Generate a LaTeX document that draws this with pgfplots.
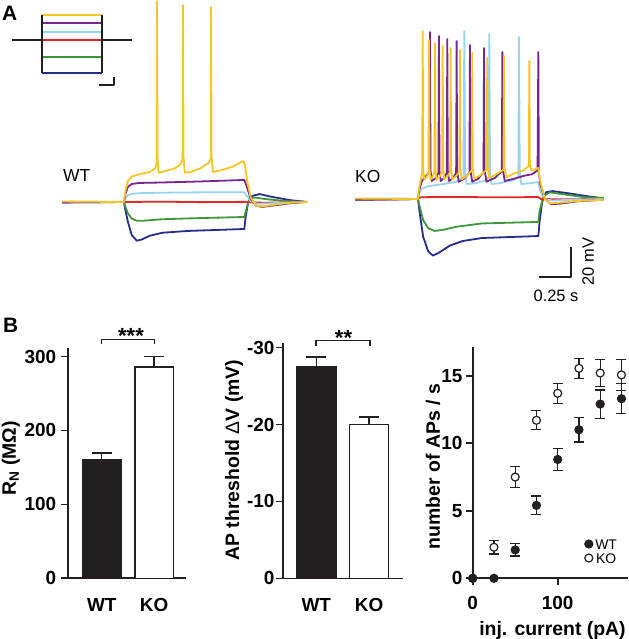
\documentclass[border=0pt]{standalone}
\usepackage{fontspec}
\setmainfont{Liberation Sans}
\usepackage{pgfplots}
\pgfplotsset{compat=1.18}
\definecolor{cY}{RGB}{246,198,38}
\definecolor{cP}{RGB}{118,38,140}
\definecolor{cL}{RGB}{150,212,242}
\definecolor{cR}{RGB}{228,38,40}
\definecolor{cG}{RGB}{62,150,58}
\definecolor{cB}{RGB}{36,44,140}
\definecolor{ink}{RGB}{35,31,32}
\newcommand{\tickfont}{\fontsize{19}{19}\selectfont\bfseries}
\newcommand{\labfont}{\fontsize{19.5}{19.5}\selectfont\bfseries}
\pgfplotsset{
  trace/.style={hide axis, scale only axis, anchor=south west,
    every axis plot/.append style={line width=1.8bp, line join=round}},
  statax/.style={scale only axis, anchor=south west, clip=false,
    axis x line=bottom, axis y line=left,
    axis line style={-, line width=1.6bp, ink},
    tick align=outside, major tick length=7bp,
    tick style={line width=1.6bp, ink},
    ticklabel style={font=\tickfont},
    /pgf/number format/assume math mode=true,
    yticklabel style={inner sep=0pt},
    xticklabel style={inner sep=0pt}},
  barax/.style={statax, ybar, bar shift=0pt, xtick style={draw=none},
    xtick={0,1}, xticklabels={WT,KO}, xticklabel style={yshift=-12.7bp}},
  /pgfplots/error bars/errs/.style={
    /pgfplots/error bars/error bar style={line width=1.4bp, ink},
    /pgfplots/error bars/error mark options={rotate=90, line width=1.4bp, mark size=10bp, ink}},
  /pgfplots/error bars/errc/.style={
    /pgfplots/error bars/error bar style={line width=1.2bp, ink},
    /pgfplots/error bars/error mark options={rotate=90, line width=1.2bp, mark size=5bp, ink}},
}
\pgfplotstableread{
x   y     e
0   0     0
25  2.3   0.5
50  7.5   0.77
75  11.7  0.7
100 13.7  0.74
125 15.55 0.74
150 15.2  1.0
175 15.06 1.16
}\koRate
\pgfplotstableread{
x   y     e
0   0     0
25  0     0
50  2.1   0.45
75  5.4   0.7
100 8.8   0.8
125 11.0  0.9
150 12.9  1.05
175 13.3  1.1
}\wtRate
\begin{document}
\begin{tikzpicture}
\useasboundingbox (0,0) rectangle (629bp,639bp);

% ---------- inset: current protocol ----------
\begin{axis}[trace, at={(12bp,549bp)}, width=120bp, height=90bp,
  xmin=-0.5, xmax=1.5, ymin=-150, ymax=120]
\addplot[ink] coordinates {(-0.5,0) (1.5,0)};
\addplot[cY] coordinates {(0,75) (1,75)};
\addplot[cP] coordinates {(0,50) (1,50)};
\addplot[cL] coordinates {(0,25) (1,25)};
\addplot[cR] coordinates {(0,0) (1,0)};
\addplot[cG] coordinates {(0,-50) (1,-50)};
\addplot[cB] coordinates {(0,-100) (1,-100)};
\addplot[ink] coordinates {(0,-100) (0,75)};
\addplot[ink] coordinates {(1,-100) (1,75)};
\addplot[ink] coordinates {(0.95,-135) (1.2,-135) (1.2,-111)};
\end{axis}

% ---------- WT traces ----------
\begin{axis}[trace, at={(55bp,379bp)}, width=260bp, height=260bp,
  xmin=-0.539, xmax=1.492, ymin=-108.67, ymax=64.67]
\addplot[cB] coordinates {(-0.484,-70.3) (-0.25,-70.1) (0,-70) (0.01,-75) (0.03,-83) (0.06,-92) (0.1,-95.8) (0.14,-95) (0.2,-92.5) (0.3,-90.5) (0.5,-89.3) (0.94,-88) (0.95,-80) (0.97,-70) (1.0,-66) (1.06,-64.7) (1.15,-66.5) (1.3,-68.8) (1.43,-70)};
\addplot[cG] coordinates {(-0.484,-70) (-0.2,-70.2) (0,-70) (0.01,-73) (0.03,-77.5) (0.06,-81) (0.1,-82.5) (0.15,-82.5) (0.3,-81.5) (0.6,-80.7) (0.94,-80) (0.955,-75) (0.98,-68) (1.02,-67) (1.1,-68) (1.25,-69.3) (1.43,-70)};
\addplot[cR] coordinates {(-0.484,-70) (-0.3,-69.8) (-0.1,-70.1) (0,-70) (0.3,-69.8) (0.6,-70.1) (0.95,-69.9) (1.0,-70.3) (1.1,-70.5) (1.25,-70.2) (1.43,-70)};
\addplot[cL] coordinates {(-0.484,-70.2) (-0.2,-70) (0,-70) (0.01,-67.5) (0.03,-65.5) (0.06,-64.5) (0.15,-64) (0.4,-63.7) (0.7,-63.5) (0.94,-63.5) (0.96,-66) (0.99,-69.5) (1.04,-71.2) (1.12,-71) (1.25,-70.4) (1.43,-70)};
\addplot[cP] coordinates {(-0.484,-70.3) (-0.2,-70.1) (0,-70) (0.01,-65) (0.03,-60) (0.06,-58) (0.12,-57.3) (0.3,-57) (0.6,-56.3) (0.94,-55.3) (0.96,-60) (0.99,-68) (1.03,-72.5) (1.08,-73.3) (1.2,-72) (1.3,-70.8) (1.43,-70)};
\addplot[cY] coordinates {(-0.484,-69.7) (-0.2,-69.9) (0,-70) (0.01,-63) (0.03,-56) (0.06,-53) (0.12,-51.5) (0.2,-50) (0.245,-47.5) (0.255,-44) (0.258,64) (0.262,-40) (0.27,-50.5) (0.3,-50) (0.4,-47.5) (0.445,-44.5) (0.458,-41) (0.461,61.3) (0.465,-40) (0.475,-50.5) (0.52,-50) (0.6,-47.5) (0.66,-44) (0.677,-41) (0.68,60) (0.684,-40) (0.695,-50) (0.75,-49) (0.85,-46.5) (0.93,-42.7) (0.945,-45) (0.96,-55) (0.99,-67) (1.03,-72.5) (1.08,-73) (1.2,-71.5) (1.3,-70.5) (1.43,-70)};
\end{axis}

% ---------- KO traces ----------
\begin{axis}[trace, at={(340bp,339bp)}, width=280bp, height=300bp,
  xmin=-0.609, xmax=1.578, ymin=-137.33, ymax=62.67]
\addplot[cB] coordinates {(-0.49,-70.5) (-0.2,-70.3) (0,-70) (0.01,-77) (0.04,-95) (0.08,-105) (0.117,-107.7) (0.16,-106) (0.25,-101) (0.35,-98) (0.5,-96) (0.94,-94.7) (0.95,-85) (0.97,-72) (1.0,-65.5) (1.05,-64.7) (1.2,-66.5) (1.35,-68.5) (1.45,-69.5)};
\addplot[cG] coordinates {(-0.49,-70) (-0.2,-69.8) (0,-70) (0.01,-74) (0.04,-84) (0.08,-89.5) (0.13,-91.3) (0.2,-90.5) (0.3,-88.5) (0.5,-86.3) (0.94,-85.3) (0.95,-78) (0.98,-68) (1.03,-65.5) (1.15,-67) (1.3,-68.8) (1.45,-69.5)};
\addplot[cR] coordinates {(-0.49,-70) (-0.2,-70.2) (0,-70) (0.02,-68.8) (0.3,-68.6) (0.6,-68.9) (0.94,-68.7) (0.96,-70) (1.1,-70.2) (1.45,-70)};
\addplot[cL] coordinates {(-0.49,-70) (-0.2,-69.8) (0,-70) (0.01,-66) (0.03,-63) (0.08,-61.5) (0.2,-60) (0.3,-58.5) (0.355,-55.5) (0.362,42) (0.368,-52) (0.38,-60) (0.45,-59.5) (0.53,-57.5) (0.552,-55.5) (0.557,40) (0.563,-52) (0.575,-60) (0.65,-59.3) (0.75,-57.3) (0.784,-55) (0.789,38) (0.795,-52) (0.807,-60) (0.87,-59.5) (0.94,-58.7) (0.955,-65) (0.99,-70) (1.05,-71) (1.2,-70.5) (1.45,-70)};
\addplot[cP] coordinates {(-0.49,-70.4) (-0.2,-70.2) (0,-70) (0.01,-64) (0.03,-58) (0.06,-55) (0.088,-52) (0.094,41.3) (0.098,-51) (0.108,-58) (0.14,-56) (0.16,-52.5) (0.164,38.7) (0.168,-51) (0.178,-58) (0.205,-56) (0.225,-52.5) (0.229,36.7) (0.233,-51) (0.243,-58) (0.275,-56) (0.298,-52.5) (0.302,35.3) (0.306,-51) (0.318,-58.5) (0.36,-56.5) (0.402,-52.5) (0.406,32.7) (0.41,-51) (0.424,-58.5) (0.47,-56.5) (0.512,-52) (0.516,30.7) (0.52,-50.5) (0.535,-58.5) (0.6,-56) (0.655,-51.5) (0.659,28) (0.663,-50) (0.678,-58) (0.75,-56.5) (0.83,-54.5) (0.89,-53.5) (0.934,-51) (0.94,28) (0.944,-52) (0.955,-60) (0.99,-70) (1.04,-73.5) (1.12,-73) (1.25,-71.5) (1.45,-70.5)};
\addplot[cY] coordinates {(-0.49,-69.7) (-0.2,-69.9) (0,-70) (0.01,-62) (0.025,-56) (0.033,-52) (0.037,42) (0.041,-50) (0.05,-57) (0.07,-55) (0.082,-52) (0.086,36) (0.09,-50) (0.098,-57) (0.115,-55) (0.129,-52) (0.133,34) (0.137,-50) (0.145,-57) (0.17,-55) (0.189,-52) (0.193,32) (0.197,-50) (0.205,-57) (0.23,-55) (0.251,-52) (0.255,30.7) (0.259,-50) (0.268,-57) (0.3,-54.5) (0.324,-51.5) (0.328,29.3) (0.332,-50) (0.342,-57) (0.38,-54.5) (0.42,-51) (0.424,27.3) (0.428,-49.5) (0.44,-56.5) (0.49,-54) (0.537,-50.5) (0.541,24) (0.545,-49) (0.558,-56) (0.61,-53.5) (0.668,-50.5) (0.672,25.3) (0.676,-49) (0.69,-55.5) (0.75,-53) (0.82,-51) (0.866,-48) (0.87,22) (0.874,-47) (0.885,-51) (0.92,-50) (0.94,-49.3) (0.955,-58) (0.99,-70) (1.03,-73) (1.1,-72.5) (1.25,-71.3) (1.45,-70.5)};
\addplot[ink, line width=1.5bp] coordinates {(0.945,-122) (1.195,-122) (1.195,-102)};
\end{axis}

% ---------- B: input resistance ----------
\begin{axis}[barax, at={(68.3bp,60.7bp)}, width=117.7bp, height=230.3bp,
  xmin=-0.639, xmax=1.607, ymin=0, ymax=311.6, ytick={0,100,200,300},
  yticklabel style={xshift=-5bp}, bar width=0.731]
\addplot[fill=ink, draw=ink, line width=1.4bp,
  error bars/.cd, y dir=plus, y explicit, errs]
  coordinates {(0,160) +- (0,9.5)};
\addplot[fill=white, draw=ink, line width=1.4bp,
  error bars/.cd, y dir=plus, y explicit, errs]
  coordinates {(1,286) +- (0,14)};
\end{axis}

% ---------- B: AP threshold ----------
\begin{axis}[barax, at={(282.7bp,60.7bp)}, width=120.6bp, height=235bp,
  y dir=reverse,
  xmin=-0.635, xmax=1.645, ymin=-30.56, ymax=0,
  ytick={0,-10,-20,-30}, yticklabels={0,-10,-20,-30},
  yticklabel style={xshift=-1bp}, bar width=0.74]
\addplot[fill=ink, draw=ink, line width=1.4bp,
  error bars/.cd, y dir=minus, y explicit, errs]
  coordinates {(0,-27.5) +- (0,1.3)};
\addplot[fill=white, draw=ink, line width=1.4bp,
  error bars/.cd, y dir=minus, y explicit, errs]
  coordinates {(1,-20) +- (0,1.0)};
\end{axis}

% ---------- B: firing rate ----------
\begin{axis}[statax, at={(472.7bp,60.7bp)}, width=155.3bp, height=231.6bp,
  xmin=0, xmax=182.7, ymin=0, ymax=17.15,
  xtick={0,100}, ytick={0,5,10,15},
  xticklabel style={yshift=-11.2bp}, yticklabel style={xshift=-3bp},
  reverse legend,
  legend style={at={(axis cs:131.9,2.91)}, anchor=north west, draw=none,
    fill=none, inner sep=0pt, outer sep=0pt, row sep=4bp,
    font=\fontsize{14}{14}\selectfont,
    nodes={inner sep=0pt, text height=10bp, text depth=0pt}},
  legend image code/.code={\draw[#1] plot coordinates {(0bp,0bp)};}]
% error bars first, markers on top
\addplot[only marks, mark=none, forget plot,
  error bars/.cd, y dir=both, y explicit, errc]
  table[x=x, y=y, y error=e] {\koRate};
\addplot[only marks, mark=none, forget plot,
  error bars/.cd, y dir=both, y explicit, errc]
  table[x=x, y=y, y error=e] {\wtRate};
\addplot[only marks, mark=*, mark size=4bp,
  mark options={fill=white, draw=ink, line width=1.2bp}]
  table[x=x, y=y] {\koRate};
\addlegendentry{\hspace{2.5bp}KO}
\addplot[only marks, mark=*, mark size=4bp,
  mark options={fill=ink, draw=ink, line width=1.2bp}]
  table[x=x, y=y] {\wtRate};
\addlegendentry{\hspace{2.5bp}WT}
\end{axis}

% ---------- text and annotations ----------
\node[font=\fontsize{21}{21}\selectfont\bfseries, anchor=base west, inner sep=0pt] at (2bp,618bp) {A};
\node[font=\fontsize{21}{21}\selectfont\bfseries, anchor=base west, inner sep=0pt] at (3bp,306bp) {B};
\node[font=\fontsize{17.5}{17.5}\selectfont, anchor=base west, inner sep=0pt] at (63bp,457bp) {WT};
\node[font=\fontsize{17.5}{17.5}\selectfont, anchor=base west, inner sep=0pt] at (355bp,456bp) {KO};
\node[font=\fontsize{16.5}{16.5}\selectfont, rotate=90, inner sep=0pt] at (588.3bp,377.3bp) {20 mV};
\node[font=\fontsize{16.5}{16.5}\selectfont, inner sep=0pt] at (556bp,343bp) {0.25 s};
\node[font=\labfont, rotate=90, inner sep=0pt] at (10.8bp,180.7bp) {R\textsubscript{N} (MΩ)};
\node[font=\labfont, rotate=90, inner sep=0pt] at (234bp,179bp) {AP threshold {\mdseries Δ}V (mV)};
\node[font=\labfont, rotate=90, inner sep=0pt] at (433bp,172.3bp) {number of APs / s};
\node[font=\labfont, anchor=base, inner sep=0pt] at (552.5bp,4bp) {inj. current (pA)};
\draw[ink, line width=1.1bp] (101.7bp,294.7bp) -- (101.7bp,299.7bp) -- (154.3bp,299.7bp) -- (154.3bp,294.7bp);
\node[font=\fontsize{22}{22}\selectfont\bfseries, anchor=base, inner sep=0pt] at (131bp,295.6bp) {***};
\draw[ink, line width=1.1bp] (316bp,293.3bp) -- (316bp,298.3bp) -- (370bp,298.3bp) -- (370bp,293.3bp);
\node[font=\fontsize{22}{22}\selectfont\bfseries, anchor=base, inner sep=0pt] at (343.5bp,293.9bp) {**};
\end{tikzpicture}
\end{document}
